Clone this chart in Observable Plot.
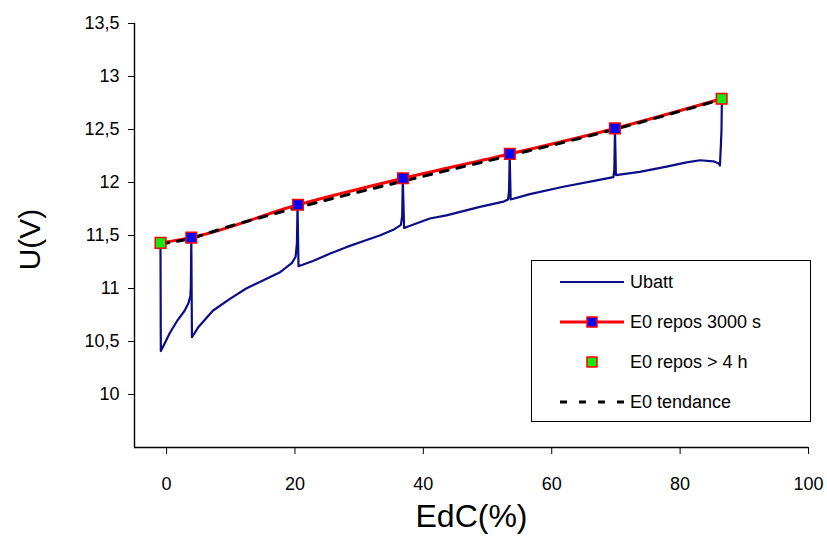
<!DOCTYPE html>
<html>
<head>
<meta charset="utf-8">
<script src="https://cdn.jsdelivr.net/npm/d3@7"></script>
<script src="https://cdn.jsdelivr.net/npm/@observablehq/plot@0.6"></script>
<style>
  body { margin: 0; background: white; }
  #wrap { position: relative; width: 827px; height: 538px; font-family: "Liberation Sans", Arial, sans-serif; }
  #legend { position: absolute; left: 531px; top: 260px; width: 278px; height: 160px; border: 1.4px solid #000; background: #fff; }
  .row { position: absolute; left: 0; height: 24px; display: flex; align-items: center; font-size: 18px; color: #000; }
  .row svg { margin-left: 28px; margin-right: 6px; }
</style>
</head>
<body>
<div id="wrap">
  <div id="chart"></div>
  <div id="legend"></div>
</div>
<script>
// ---- data ----
const xDomain = [-5, 100];
const yDomain = [9.5, 13.5];
const xTicks = [0, 20, 40, 60, 80, 100];
const yTicks = [10, 10.5, 11, 11.5, 12, 12.5, 13, 13.5];

// Ubatt measured voltage (EdC %, V)
const ubattX = [-0.95, -0.9, -0.4, 0.5, 1.7, 2.8, 3.4, 3.7, 3.78, 3.85, 3.95, 5.0, 7.2, 9.8, 12.4, 15.0, 17.6, 19.5, 20.1, 20.3, 20.4, 20.55,
  22.8, 25.5, 28.0, 30.6, 33.2, 35.5, 36.5, 36.7, 36.8, 37.0, 41.0, 43.6, 48.8, 52.5, 53.2, 53.35, 53.45, 53.6,
  56.6, 61.8, 67.0, 69.6, 69.75, 69.85, 70.0, 73.7, 77.9, 81.0, 83.1, 85.2, 86.0, 86.2, 86.35, 86.45, 86.5];
const ubattY = [11.41, 10.41, 10.47, 10.58, 10.70, 10.79, 10.86, 10.93, 11.02, 11.47, 10.54, 10.64, 10.79, 10.90, 11.00, 11.075, 11.15, 11.24, 11.30, 11.42, 11.78, 11.21,
  11.26, 11.33, 11.39, 11.445, 11.50, 11.56, 11.60, 11.68, 12.03, 11.57, 11.66, 11.69, 11.77, 11.82, 11.84, 11.92, 12.26, 11.84,
  11.89, 11.96, 12.02, 12.05, 12.12, 12.50, 12.07, 12.10, 12.15, 12.19, 12.21, 12.20, 12.18, 12.16, 12.35, 12.50, 12.77];

// E0 after rest (EdC %, V)
const e0X = [-0.94, 3.85, 20.47, 36.84, 53.47, 69.84, 86.47];
const e0Y = [11.43, 11.48, 11.79, 12.04, 12.27, 12.51, 12.79];
const e0Kind = ["4h", "3000s", "3000s", "3000s", "3000s", "3000s", "4h"];

// E0 trend
const trendX = [-0.94, 2.5, 10, 20.5, 37, 53.5, 70, 86.47];
const trendY = [11.42, 11.455, 11.59, 11.765, 12.015, 12.255, 12.505, 12.785];

const legendLabels = ["Ubatt", "E0 repos 3000 s", "E0 repos > 4 h", "E0 tendance"];

// ---- build ----
const ubatt = ubattX.map((x, i) => ({x, y: ubattY[i]}));
const e0 = e0X.map((x, i) => ({x, y: e0Y[i], kind: e0Kind[i]}));
const trend = trendX.map((x, i) => ({x, y: trendY[i]}));
const fmt = d => String(d).replace(".", ",");

const NAVY = "#0c0c86", RED = "#ff0000", BLUE = "#0000ff", GREEN = "#16e616";

const chart = Plot.plot({
  width: 827, height: 538,
  marginLeft: 134, marginRight: 19, marginTop: 23, marginBottom: 91,
  style: {fontFamily: "'Liberation Sans', Arial, sans-serif", fontSize: "18px", background: "white", color: "black"},
  x: {domain: xDomain},
  y: {domain: yDomain},
  marks: [
    Plot.axisX({ticks: xTicks, tickSize: 7, tickPadding: 23, label: null, tickFormat: fmt, fontSize: 18}),
    Plot.axisY({ticks: yTicks, tickSize: 6, tickPadding: 9, label: null, tickFormat: fmt, fontSize: 18}),
    Plot.ruleX([xDomain[0]], {stroke: "black", strokeWidth: 1.4}),
    Plot.ruleY([yDomain[0]], {stroke: "black", strokeWidth: 1.4}),
    Plot.line(ubatt, {x: "x", y: "y", stroke: NAVY, strokeWidth: 2.2}),
    Plot.line(e0, {x: "x", y: "y", stroke: RED, strokeWidth: 3, curve: "monotone-x"}),
    Plot.line(trend, {x: "x", y: "y", stroke: "black", strokeWidth: 3, strokeDasharray: "8,9", curve: "monotone-x"}),
    Plot.dot(e0, {x: "x", y: "y", symbol: "square", r: 6, fill: d => d.kind === "4h" ? GREEN : BLUE, stroke: RED, strokeWidth: 1.5}),
    Plot.text(["EdC(%)"], {text: d => d, frameAnchor: "bottom", lineAnchor: "middle", textAnchor: "middle", dy: 69, fontSize: 32}),
    Plot.text(["U(V)"], {text: d => d, frameAnchor: "left", textAnchor: "middle", lineAnchor: "middle", dx: -104, dy: 4, rotate: -90, fontSize: 30})
  ]
});
document.getElementById("chart").appendChild(chart);

// ---- legend ----
const swatches = [
  `<svg width="64" height="12"><line x1="0" y1="6" x2="64" y2="6" stroke="${NAVY}" stroke-width="2"/></svg>`,
  `<svg width="64" height="14"><line x1="0" y1="7" x2="64" y2="7" stroke="${RED}" stroke-width="3"/><rect x="27" y="2" width="10" height="10" fill="${BLUE}" stroke="${RED}" stroke-width="1.5"/></svg>`,
  `<svg width="64" height="14"><rect x="27" y="2" width="10" height="10" fill="${GREEN}" stroke="${RED}" stroke-width="1.5"/></svg>`,
  `<svg width="64" height="12"><line x1="0" y1="6" x2="64" y2="6" stroke="black" stroke-width="3" stroke-dasharray="7,12"/></svg>`
];
const rowTops = [9, 49, 89, 129];
const leg = document.getElementById("legend");
legendLabels.forEach((t, i) => {
  const r = document.createElement("div");
  r.className = "row";
  r.style.top = rowTops[i] + "px";
  r.innerHTML = swatches[i] + `<span>${t}</span>`;
  leg.appendChild(r);
});
</script>
</body>
</html>
